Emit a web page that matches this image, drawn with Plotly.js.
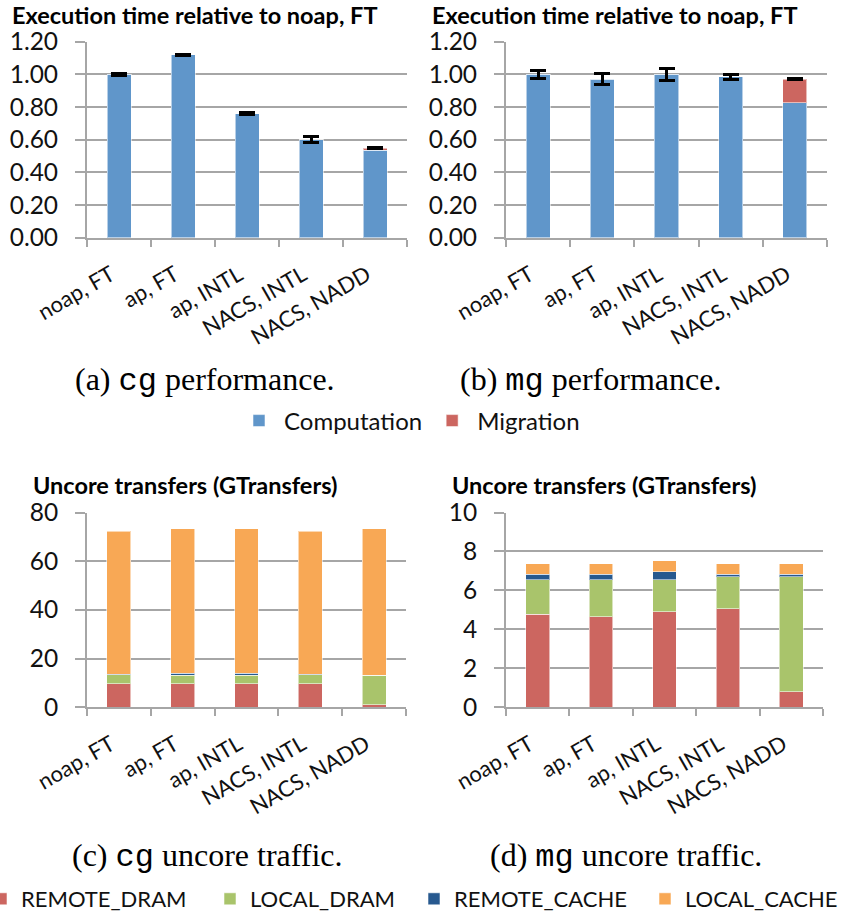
<!DOCTYPE html>
<html>
<head>
<meta charset="utf-8">
<script src="https://cdn.plot.ly/plotly-3.0.1.min.js"></script>
<style>
  html, body { margin: 0; padding: 0; background: #fff; }
  #chart { width: 843px; height: 915px; }
</style>
</head>
<body>
<div id="chart"></div>
<script>
// Configurations on the x axis of every panel
const categories = ["noap, FT", "ap, FT", "ap, INTL", "NACS, INTL", "NACS, NADD"];

// (a) cg execution time, relative to noap, FT
const cgComputation = [1.00, 1.12, 0.76, 0.60, 0.535];
const cgMigration   = [0, 0, 0, 0, 0.013];
const cgError       = [0.005, 0.004, 0.005, 0.02, 0.004];

// (b) mg execution time, relative to noap, FT
const mgComputation = [1.00, 0.97, 1.00, 0.985, 0.825];
const mgMigration   = [0, 0, 0, 0, 0.145];
const mgError       = [0.025, 0.035, 0.035, 0.015, 0.003];

// (c) cg uncore transfers (GTransfers)
const cgRemoteDram  = [9.7, 9.7, 9.7, 9.7, 1.0];
const cgLocalDram   = [3.7, 3.4, 3.4, 3.7, 12.1];
const cgRemoteCache = [0.1, 0.9, 0.9, 0.1, 0.1];
const cgLocalCache  = [58.7, 59.3, 59.3, 58.7, 60.1];

// (d) mg uncore transfers (GTransfers)
const mgRemoteDram  = [4.78, 4.64, 4.91, 5.05, 0.80];
const mgLocalDram   = [1.78, 1.92, 1.65, 1.65, 5.90];
const mgRemoteCache = [0.27, 0.27, 0.41, 0.13, 0.13];
const mgLocalCache  = [0.55, 0.55, 0.56, 0.55, 0.55];

const yTicksPerf = [0, 0.2, 0.4, 0.6, 0.8, 1.0, 1.2];
const yTicksCg   = [0, 20, 40, 60, 80];
const yTicksMg   = [0, 2, 4, 6, 8, 10];

const COLORS = {
  computation: "#6096ca",
  migration: "#cc6660",
  remoteDram: "#cc6660",
  localDram: "#a9c46b",
  remoteCache: "#27598f",
  localCache: "#f8a855"
};

const W = 843, H = 915;
const px = v => v / W;
const py = v => (H - v) / H;

const edge = { color: "rgba(255,255,255,0.55)", width: 1 };

function perfTraces(comp, migr, err, xa, ya, show) {
  return [
    { type: "bar", name: "Computation", x: categories, y: comp, xaxis: xa, yaxis: ya,
      marker: { color: COLORS.computation, line: edge }, showlegend: show, legend: "legend" },
    { type: "bar", name: "Migration", x: categories, y: migr, xaxis: xa, yaxis: ya,
      marker: { color: COLORS.migration, line: edge }, showlegend: show, legend: "legend",
      error_y: { type: "data", array: err, visible: true, color: "#000", thickness: 3, width: 8 } }
  ];
}

// Each traffic component gets its own legend box so the bottom key can be spaced freely
function trafficTraces(rd, ld, rc, lc, xa, ya, show) {
  const parts = [
    ["REMOTE_DRAM", rd, COLORS.remoteDram, "legend2"],
    ["LOCAL_DRAM", ld, COLORS.localDram, "legend3"],
    ["REMOTE_CACHE", rc, COLORS.remoteCache, "legend4"],
    ["LOCAL_CACHE", lc, COLORS.localCache, "legend5"]
  ];
  return parts.map(([name, vals, color, lg]) => ({
    type: "bar", name: name, x: categories, y: vals, xaxis: xa, yaxis: ya,
    marker: { color: color, line: edge }, showlegend: show, legend: lg
  }));
}

const data = [
  ...perfTraces(cgComputation, cgMigration, cgError, "x", "y", true),
  ...perfTraces(mgComputation, mgMigration, mgError, "x2", "y2", false),
  ...trafficTraces(cgRemoteDram, cgLocalDram, cgRemoteCache, cgLocalCache, "x3", "y3", true),
  ...trafficTraces(mgRemoteDram, mgLocalDram, mgRemoteCache, mgLocalCache, "x4", "y4", false)
];

const GRID = "#a6a6a6";

function xAxis(domain, anchor) {
  return {
    type: "category", domain: domain, anchor: anchor,
    showline: true, linecolor: GRID, linewidth: 2,
    ticks: "outside", tickson: "boundaries", ticklen: 7, tickcolor: GRID, tickwidth: 2,
    tickangle: -30, ticklabelstandoff: 14, ticklabelshift: -8,
    tickfont: { size: 22, color: "#111" },
    showgrid: false, fixedrange: true
  };
}

function yAxis(domain, anchor, range, tickvals, fmt) {
  return {
    domain: domain, anchor: anchor, range: range,
    tickmode: "array", tickvals: tickvals, tickformat: fmt,
    showline: true, linecolor: GRID, linewidth: 2,
    showgrid: true, gridcolor: GRID, gridwidth: 2, zeroline: false,
    ticks: "outside", ticklen: 10, tickcolor: GRID, tickwidth: 2,
    ticklabelstandoff: 12,
    tickfont: { size: 24.5, color: "#111" }, fixedrange: true
  };
}

const topY = [py(237.7), py(41.7)];
const botY = [py(707.3), py(512.5)];

function title(text, x, y) {
  return {
    text: "<b>" + text + "</b>", xref: "paper", yref: "paper",
    x: px(x), y: py(y), xanchor: "left", yanchor: "middle", showarrow: false,
    font: { family: "Lato", size: 23.5, color: "#000" }
  };
}

function caption(letter, prog, rest, cx, cy) {
  return {
    text: "(" + letter + ") <span style=\"font-family:'Liberation Mono'\">" + prog + "</span> " + rest,
    xref: "paper", yref: "paper", x: px(cx), y: py(cy),
    xanchor: "center", yanchor: "middle", showarrow: false,
    font: { family: "Liberation Serif", size: 32, color: "#000" }
  };
}

function keyBox(x, y, size) {
  return {
    orientation: "h", x: px(x), y: py(y), xanchor: "left", yanchor: "middle",
    font: { size: size, color: "#111" }, traceorder: "normal", bgcolor: "rgba(0,0,0,0)"
  };
}

const legend1 = Object.assign(keyBox(234, 421, 24), { itemwidth: 40 });

const layout = {
  width: W, height: H,
  margin: { l: 0, r: 0, t: 0, b: 0, autoexpand: false },
  paper_bgcolor: "#fff", plot_bgcolor: "#fff",
  font: { family: "Lato", color: "#000" },
  barmode: "stack", bargap: 0.625,
  xaxis:  xAxis([px(87), px(407)], "y"),
  yaxis:  yAxis(topY, "x", [0, 1.2], yTicksPerf, ".2f"),
  xaxis2: xAxis([px(506), px(827)], "y2"),
  yaxis2: yAxis(topY, "x2", [0, 1.2], yTicksPerf, ".2f"),
  xaxis3: xAxis([px(87), px(406)], "y3"),
  yaxis3: yAxis(botY, "x3", [0, 80], yTicksCg, "d"),
  xaxis4: xAxis([px(506), px(823)], "y4"),
  yaxis4: yAxis(botY, "x4", [0, 10], yTicksMg, "d"),
  legend: legend1,
  legend2: keyBox(-19, 899, 22),
  legend3: keyBox(210, 899, 22),
  legend4: keyBox(414, 899, 22),
  legend5: keyBox(645, 899, 22),
  annotations: [
    title("Execution time relative to noap, FT", 10, 15),
    title("Execution time relative to noap, FT", 430, 15),
    title("Uncore transfers (GTransfers)", 31, 485),
    title("Uncore transfers (GTransfers)", 450, 485),
    caption("a", "cg", "performance.", 205, 380),
    caption("b", "mg", "performance.", 590, 380),
    caption("c", "cg", "uncore traffic.", 207, 856),
    caption("d", "mg", "uncore traffic.", 626, 856)
  ]
};

Plotly.newPlot("chart", data, layout, { staticPlot: true, displayModeBar: false });
</script>
</body>
</html>
